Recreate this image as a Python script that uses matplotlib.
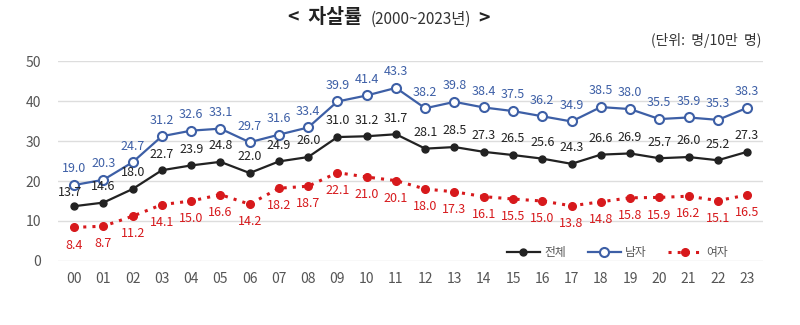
import numpy as np
import matplotlib.pyplot as plt

plt.rcParams['font.family'] = ['Noto Sans CJK KR', 'DejaVu Sans']

years = ["00", "01", "02", "03", "04", "05", "06", "07", "08", "09", "10", "11",
         "12", "13", "14", "15", "16", "17", "18", "19", "20", "21", "22", "23"]
total = [13.7, 14.6, 18.0, 22.7, 23.9, 24.8, 22.0, 24.9, 26.0, 31.0, 31.2, 31.7,
         28.1, 28.5, 27.3, 26.5, 25.6, 24.3, 26.6, 26.9, 25.7, 26.0, 25.2, 27.3]
male = [19.0, 20.3, 24.7, 31.2, 32.6, 33.1, 29.7, 31.6, 33.4, 39.9, 41.4, 43.3,
        38.2, 39.8, 38.4, 37.5, 36.2, 34.9, 38.5, 38.0, 35.5, 35.9, 35.3, 38.3]
female = [8.4, 8.7, 11.2, 14.1, 15.0, 16.6, 14.2, 18.2, 18.7, 22.1, 21.0, 20.1,
          18.0, 17.3, 16.1, 15.5, 15.0, 13.8, 14.8, 15.8, 15.9, 16.2, 15.1, 16.5]

c_black = "#222222"
c_blue = "#3d5fa6"
c_red = "#d7191c"

x = np.arange(len(years))

fig = plt.figure(figsize=(8, 3.25), dpi=100)
ax = fig.add_axes([0.0725, 0.197, 0.8815, 0.615])

ax.plot(x, total, color=c_black, lw=1.6, marker="o", ms=5, label="전체", zorder=3)
ax.plot(x, male, color=c_blue, lw=1.6, marker="o", ms=6.5, mfc="white",
        mec=c_blue, mew=1.5, label="남자", zorder=3)
ax.plot(x, female, color=c_red, lw=2.2, ls=(0, (1, 2)), marker="o", ms=5.5,
        label="여자", zorder=3)

for i in range(len(x)):
    ax.annotate("%.1f" % male[i], (x[i], male[i]), xytext=(0, 7), textcoords="offset points",
                ha="center", va="bottom", fontsize=9, color=c_blue)
    # first total label sits a bit left, like the original
    off = (-3, 5) if i == 0 else (0, 7)
    ax.annotate("%.1f" % total[i], (x[i], total[i]), xytext=off, textcoords="offset points",
                ha="center", va="bottom", fontsize=9, color=c_black)
    ax.annotate("%.1f" % female[i], (x[i], female[i]), xytext=(0, -8), textcoords="offset points",
                ha="center", va="top", fontsize=9, color=c_red)

ax.set_xlim(-0.55, 23.55)
ax.set_ylim(0, 50)
ax.set_yticks([0, 10, 20, 30, 40, 50])
ax.set_xticks(x)
ax.set_xticklabels(years)
ax.tick_params(length=0, labelsize=10, colors="#555555")
ax.tick_params(axis="x", pad=8)
ax.tick_params(axis="y", pad=12)
ax.grid(axis="y", color="#dddddd", lw=1)
ax.set_axisbelow(True)
for s in ax.spines.values():
    s.set_visible(False)

leg = ax.legend(loc="lower right", bbox_to_anchor=(0.965, -0.045), ncol=3, frameon=False,
                fontsize=8.5, handlelength=2.8, columnspacing=1.8, handletextpad=0.4)
for t in leg.get_texts():
    t.set_color("#555555")

fig.text(0.452, 0.945, "<  자살률", ha="right", va="center", fontsize=14, fontweight="bold", color="#222222")
fig.text(0.463, 0.942, "(2000~2023년)", ha="left", va="center", fontsize=11, color="#333333")
fig.text(0.598, 0.945, ">", ha="left", va="center", fontsize=14, fontweight="bold", color="#222222")
fig.text(0.952, 0.875, "(단위:  명/10만  명)", ha="right", va="center", fontsize=10, color="#333333")

plt.savefig("out.png", dpi=100)
